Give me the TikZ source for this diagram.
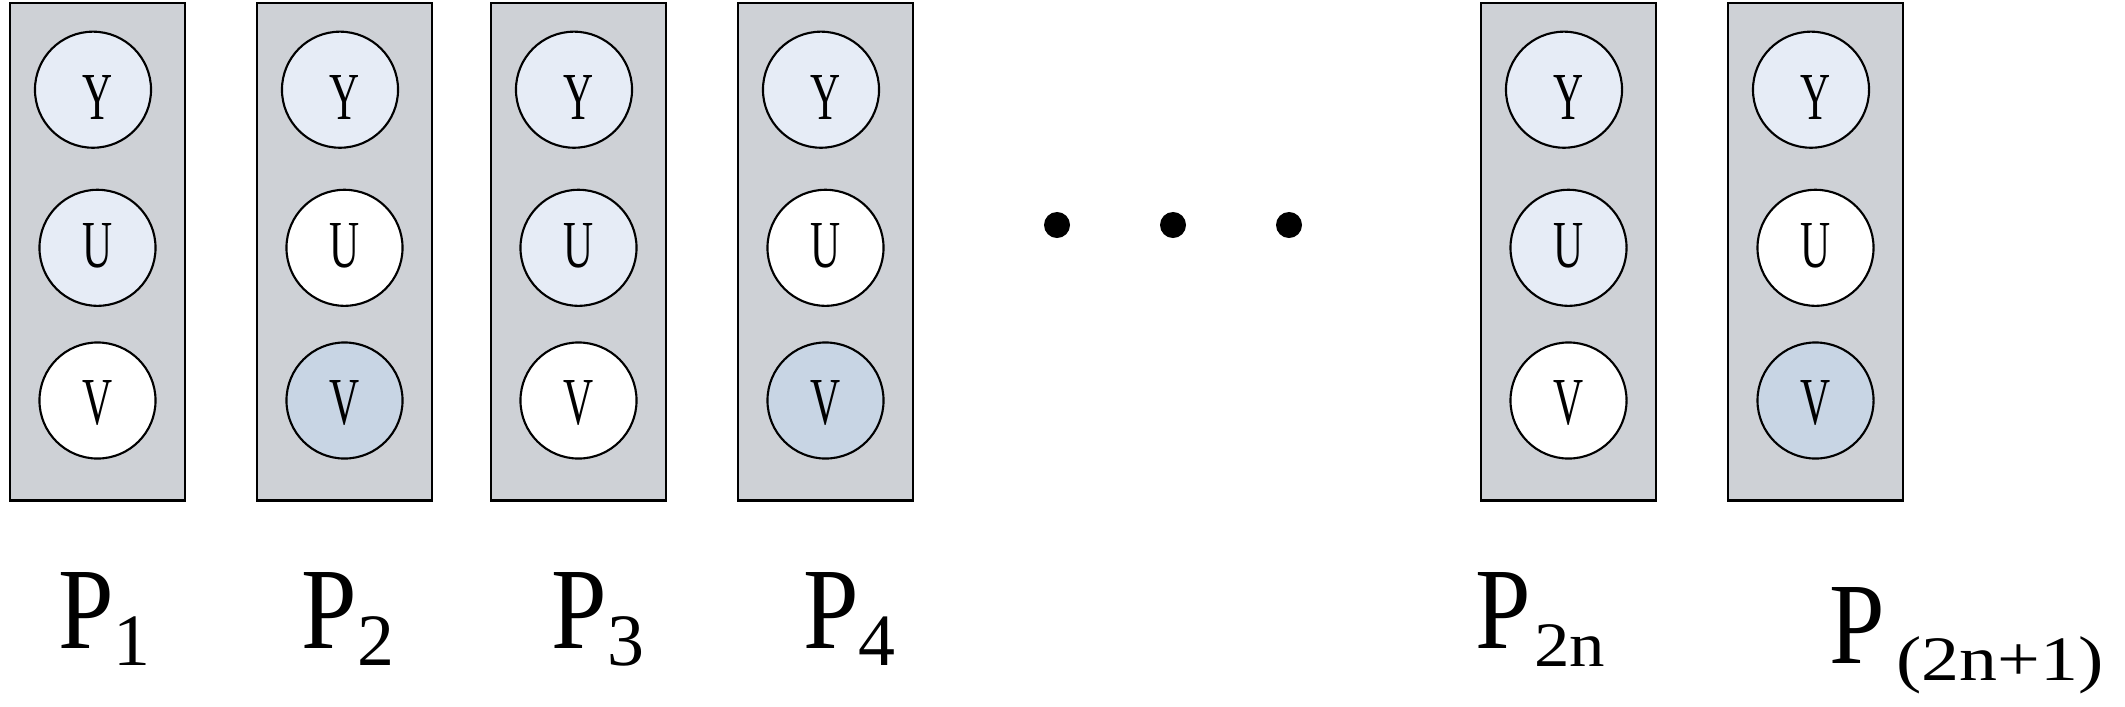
\documentclass[tikz,border=0pt]{standalone}
\usepackage{fontspec}
\setmainfont{Liberation Serif}
\newfontfamily\cfont[FakeStretch=0.62]{Liberation Serif}
\newfontfamily\pfont[FakeStretch=0.86]{Liberation Serif}
\newfontfamily\nfont[FakeStretch=1.12]{Liberation Serif}
\newfontfamily\qfont[FakeStretch=1.2]{Liberation Serif}
\definecolor{boxgray}{RGB}{206,209,214}
\definecolor{lightblue}{RGB}{230,236,246}
\definecolor{darkblue}{RGB}{200,213,228}
\newcommand\subdig[1]{\raisebox{-4.95pt}{\rmfamily\fontsize{21}{22}\selectfont #1}}
\tikzset{
  column/.style={draw, fill=boxgray, line width=0.65pt, minimum width=1.75cm,
    minimum height=4.97cm, inner sep=0pt, anchor=north west},
  ball/.style={circle, draw, line width=0.6pt, minimum size=1.16cm, inner sep=0pt},
  letter/.style={anchor=base, inner sep=0pt, font=\cfont\fontsize{19.1}{20}\selectfont},
  plabel/.style={anchor=base west, inner sep=0pt, font=\pfont\fontsize{33}{36}\selectfont},
  dot/.style={circle, fill=black, minimum size=0.26cm, inner sep=0pt}
}
\begin{document}
\begin{tikzpicture}[x=0.01cm,y=-0.01cm]
\useasboundingbox (0,0) rectangle (2125,706);
\foreach \i/\xl/\uf/\vf in {1/8/lightblue/white, 2/255/white/darkblue,
  3/489/lightblue/white, 4/736/white/darkblue, 5/1479/lightblue/white,
  6/1726/white/darkblue} {
  \node[column] (col\i) at (\xl+1,2) {};
  \node[ball, fill=lightblue] (y\i) at (\xl+85,89.7) {};
  \node[ball, fill=\uf] (u\i) at (\xl+89.5,247.8) {};
  \node[ball, fill=\vf] (v\i) at (\xl+89.5,400.5) {};
  \node[letter] (ty\i) at (\xl+89.5,119.3) {Y};
  \node[letter] (tu\i) at (\xl+89.5,267.5) {U};
  \node[letter] (tv\i) at (\xl+89.5,424) {V};
}
\node[dot] (d1) at (1057,225) {};
\node[dot] (d2) at (1173,225) {};
\node[dot] (d3) at (1289,225) {};
\node[plabel] (p1) at (57.7,648.3) {P\subdig{1}};
\node[plabel] (p2) at (301.1,648.3) {P\subdig{2}};
\node[plabel] (p3) at (551.1,648.3) {P\subdig{3}};
\node[plabel] (p4) at (802.4,648.3) {P\subdig{4}};
\node[plabel] (p2n) at (1475.1,648.3) {P\hspace{0.9pt}\raisebox{-5.24pt}{\nfont\fontsize{18}{20}\selectfont 2n}};
\node[plabel] (p2n1) at (1828.4,663.3) {P\hspace{3.4pt}\raisebox{-4.75pt}{\qfont\fontsize{18}{20}\selectfont (2n+1)}};
\end{tikzpicture}
\end{document}
